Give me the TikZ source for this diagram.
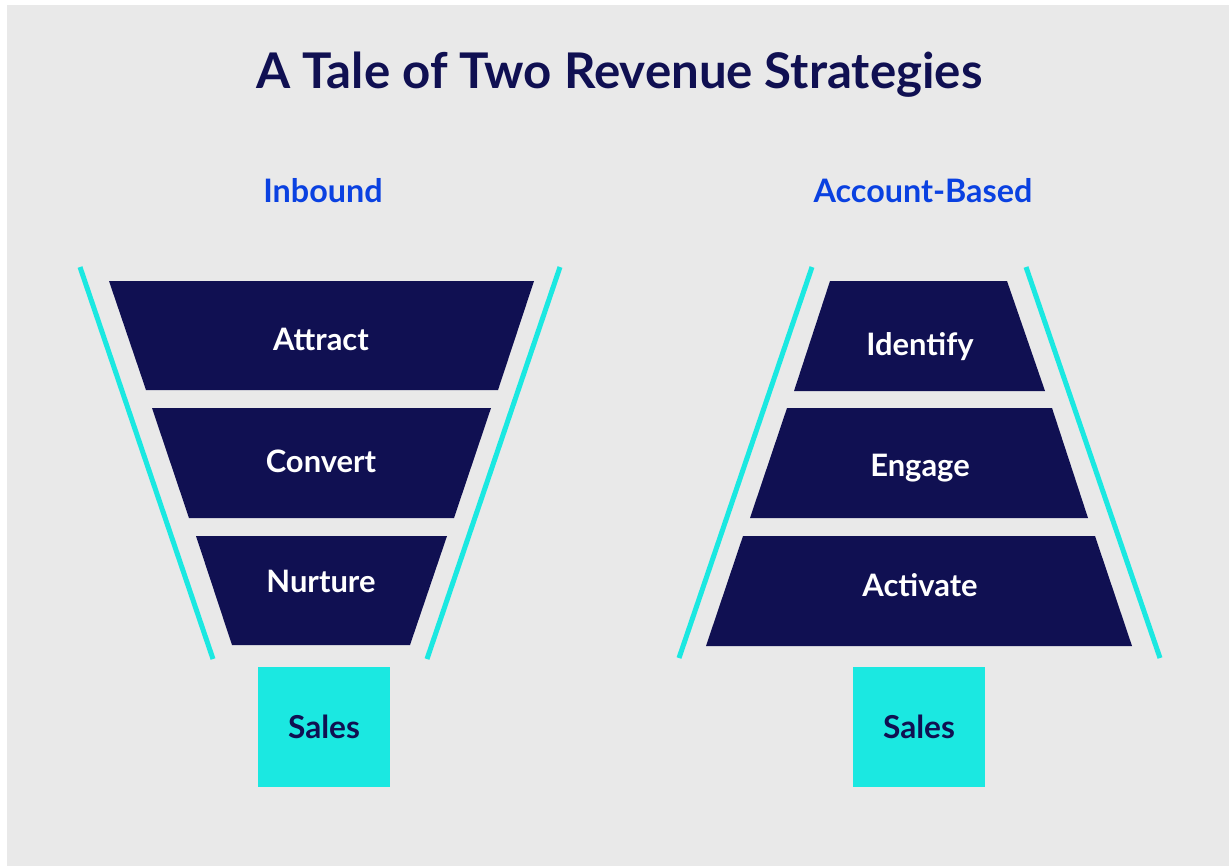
\documentclass[tikz,border=0pt]{standalone}
\usepackage{fontspec}
\setmainfont{Lato}
\usepackage{tikz}
\definecolor{navy}{RGB}{16,16,82}
\definecolor{aqua}{RGB}{27,232,225}
\definecolor{royal}{RGB}{10,65,225}
\definecolor{paper}{RGB}{233,233,233}
\tikzset{
  stage/.style={fill=navy},
  stagetext/.style={text=white, font=\bfseries\fontsize{17.6}{20}\selectfont, anchor=base},
  rail/.style={aqua, line width=2.85pt},
  salesbox/.style={fill=aqua, minimum width=2.64cm, minimum height=2.4cm, inner sep=0pt,
    text=navy, font=\bfseries\fontsize{18}{21}\selectfont},
  heading/.style={text=royal, font=\bfseries\fontsize{18.4}{22}\selectfont, anchor=base}
}

\begin{document}
\begin{tikzpicture}[x=0.02cm,y=-0.02cm]
\useasboundingbox (0,0) rectangle (1229,866);
\fill [white] (0,0) rectangle (1229,866);
\fill [paper] (7,5) rectangle (1229,866);

% title
\node [text=navy, font=\bfseries\fontsize{28}{33}\selectfont, anchor=base] (title) at (619.5,88) {A Tale of Two Revenue Strategies};

% inbound funnel
\node [heading] (inbound) at (323,202) {Inbound};
\draw [rail] (80,267)--(213,659);
\draw [rail] (560,267)--(427,659);
\fill [stage] (109,281)--(534,281)--(498,390)--(146,390)--cycle;
\fill [stage] (152,408)--(491,408)--(454,518)--(189,518)--cycle;
\fill [stage] (196,536)--(447,536)--(410,645)--(232,645)--cycle;
\node [stagetext] (attract) at (321,350) {Attract};
\node [stagetext] (convert) at (321,472) {Convert};
\node [stagetext] (nurture) at (321,592) {Nurture};
\node [salesbox] (salesA) at (324,727) {Sales};

% account-based funnel
\node [heading] (account) at (923,202) {Account-Based};
\draw [rail] (812,267)--(679,658);
\draw [rail] (1026,267)--(1160,658);
\fill [stage] (830,281)--(1007,281)--(1045,391)--(794,391)--cycle;
\fill [stage] (787,408)--(1052,408)--(1088,518)--(750,518)--cycle;
\fill [stage] (743,536)--(1095,536)--(1132,646)--(706,646)--cycle;
\node [stagetext] (identify) at (920,355) {Identify};
\node [stagetext] (engage) at (920,476) {Engage};
\node [stagetext] (activate) at (920,596) {Activate};
\node [salesbox] (salesB) at (919,727) {Sales};

\end{tikzpicture}
\end{document}
